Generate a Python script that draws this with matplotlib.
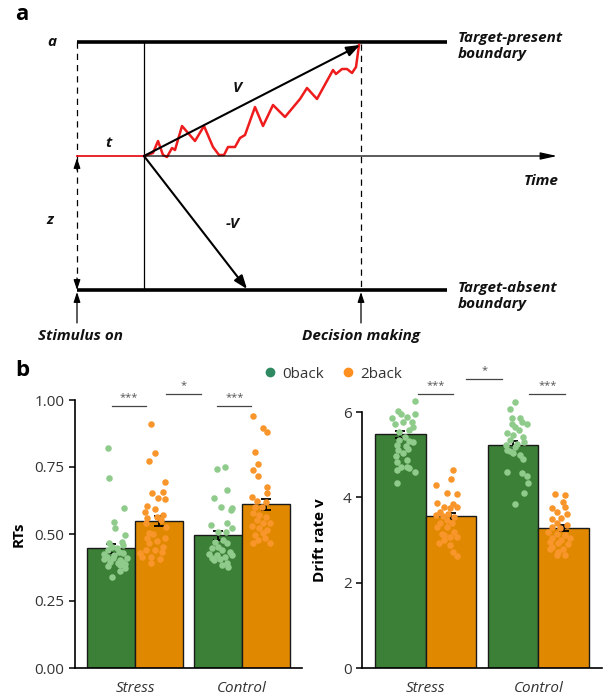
import numpy as np
import matplotlib.pyplot as plt
from matplotlib.lines import Line2D

plt.rcParams['font.family'] = ['Open Sans', 'DejaVu Sans']

W, H = 603, 698

# ---------------- panel a: diffusion schematic (figure pixel units) ----------------
x_on, x_t, x_dec = 77, 144, 361       # stimulus on, end of non-decision time, decision
x_bound_end = 447
y_a, y_z, y_0 = 42, 156, 290          # upper boundary, start point, lower boundary
x_time_end = 557
v_tip = (360, 45)
mv_tip = (247, 289)

# noisy evidence accumulation path
path_x = [144, 153, 158, 163, 167, 172, 175, 182, 195, 204, 213, 219, 224, 228,
          235, 240, 245, 255, 263, 273, 285, 300, 307, 317, 333, 336, 342, 347,
          352, 356, 359]
path_y = [156, 153, 141, 155, 157, 148, 150, 126, 141, 126, 147, 155, 155, 147,
          147, 138, 135, 107, 126, 105, 117, 99, 88, 99, 70, 74, 69, 69, 73, 67, 45]

# ---------------- panel b data ----------------
conds = ['Stress', 'Control']

rt_mean_0 = [0.447, 0.495]
rt_mean_2 = [0.547, 0.611]
rt_se_0 = [0.017, 0.016]
rt_se_2 = [0.019, 0.020]

rt_s0 = [0.822, 0.709, 0.597, 0.544, 0.524, 0.496, 0.465, 0.471, 0.459, 0.453,
         0.440, 0.434, 0.428, 0.415, 0.409, 0.403, 0.397, 0.391, 0.388, 0.420,
         0.405, 0.384, 0.372, 0.363, 0.338, 0.447, 0.412, 0.380, 0.425, 0.395]
rt_s0_jit = [-0.03, -0.02, 0.12, 0.03, 0.04, 0.13, -0.02, 0.10, 0.11, 0.01,
             -0.03, 0.07, 0.11, -0.04, 0.02, 0.08, -0.01, 0.06, 0.13, 0.03,
             -0.07, 0.08, 0.13, 0.08, 0.01, 0.05, 0.15, -0.03, -0.07, 0.10]
rt_s2 = [0.910, 0.801, 0.774, 0.695, 0.654, 0.657, 0.633, 0.630, 0.604, 0.592,
         0.581, 0.570, 0.565, 0.559, 0.552, 0.542, 0.525, 0.503, 0.500, 0.484,
         0.484, 0.475, 0.465, 0.453, 0.440, 0.440, 0.434, 0.415, 0.413, 0.393,
         0.405, 0.430]
rt_s2_jit = [-0.08, -0.04, -0.10, 0.05, -0.07, 0.04, -0.01, 0.05, -0.11, -0.04,
             -0.13, 0.04, -0.02, -0.11, 0.02, -0.12, 0.06, -0.10, -0.06, -0.11,
             0.05, -0.02, -0.10, 0.04, -0.12, -0.04, 0.03, -0.08, -0.16, -0.08,
             0.01, -0.18]
rt_c0 = [0.744, 0.749, 0.664, 0.633, 0.600, 0.596, 0.590, 0.534, 0.540, 0.521,
         0.509, 0.509, 0.471, 0.478, 0.465, 0.453, 0.447, 0.440, 0.434, 0.422,
         0.415, 0.422, 0.409, 0.406, 0.391, 0.378, 0.402, 0.385, 0.425]
rt_c0_jit = [-0.01, 0.07, 0.09, -0.04, 0.03, 0.13, 0.12, -0.06, 0.09, 0.13,
             0.00, 0.08, -0.03, 0.05, 0.09, 0.00, -0.05, 0.04, 0.11, -0.01,
             0.07, 0.13, -0.05, 0.02, 0.09, 0.10, -0.04, 0.04, -0.08]
rt_c2 = [0.941, 0.894, 0.882, 0.805, 0.761, 0.739, 0.718, 0.677, 0.654, 0.637,
         0.624, 0.621, 0.602, 0.600, 0.577, 0.571, 0.565, 0.552, 0.542, 0.540,
         0.530, 0.521, 0.515, 0.496, 0.503, 0.478, 0.465, 0.468, 0.484]
rt_c2_jit = [-0.12, -0.03, 0.01, -0.10, -0.07, -0.12, -0.07, 0.01, 0.01, -0.13,
             -0.08, 0.00, -0.10, -0.04, -0.12, -0.06, 0.00, -0.08, -0.03, 0.04,
             -0.13, -0.06, 0.01, -0.10, -0.03, -0.07, 0.04, -0.12, -0.01]

v_mean_0 = [5.48, 5.23]
v_mean_2 = [3.57, 3.28]
v_se_0 = [0.08, 0.09]
v_se_2 = [0.07, 0.06]

v_s0 = [6.26, 6.03, 5.96, 5.96, 5.85, 5.89, 5.77, 5.77, 5.73, 5.65,
        5.57, 5.53, 5.42, 5.34, 5.32, 5.30, 5.22, 5.20, 5.14, 5.12,
        5.03, 4.96, 4.87, 4.83, 4.71, 4.70, 4.68, 4.64, 4.60, 4.34]
v_s0_jit = [0.13, -0.02, 0.01, 0.13, -0.07, 0.06, 0.10, 0.02, -0.05, 0.11,
            0.08, -0.01, 0.04, -0.01, 0.08, 0.11, -0.03, 0.05, 0.07, -0.02,
            0.02, -0.04, 0.06, -0.03, 0.01, 0.06, 0.08, -0.03, 0.13, -0.03]
v_s2 = [4.64, 4.44, 4.29, 4.11, 4.07, 3.86, 3.84, 3.78, 3.74, 3.78,
        3.66, 3.62, 3.58, 3.57, 3.53, 3.47, 3.39, 3.39, 3.31, 3.30,
        3.19, 3.11, 3.08, 3.00, 2.92, 2.88, 2.72, 2.62, 3.08, 3.15]
v_s2_jit = [0.02, 0.00, -0.13, -0.04, 0.05, -0.12, 0.02, -0.06, -0.01, 0.05,
            -0.10, -0.03, -0.13, -0.07, 0.03, -0.04, -0.10, 0.01, -0.12, -0.04,
            0.03, -0.06, -0.01, -0.06, -0.11, -0.01, 0.02, 0.05, 0.05, -0.08]
v_c0 = [6.24, 6.07, 5.85, 5.85, 5.77, 5.71, 5.71, 5.65, 5.57, 5.50,
        5.46, 5.42, 5.34, 5.29, 5.22, 5.18, 5.11, 5.03, 4.99, 4.91,
        4.60, 4.56, 4.50, 4.33, 4.11, 3.84, 5.26, 5.08]
v_c0_jit = [0.02, -0.03, -0.01, 0.06, 0.08, -0.01, 0.12, 0.02, 0.05, -0.05,
            0.00, 0.09, -0.03, 0.10, -0.06, 0.02, -0.05, 0.00, 0.06, 0.09,
            -0.05, 0.08, 0.12, 0.13, 0.10, 0.02, 0.04, -0.03]
v_c2 = [4.07, 4.05, 3.89, 3.74, 3.78, 3.65, 3.62, 3.49, 3.51, 3.39,
        3.35, 3.31, 3.27, 3.19, 3.15, 3.11, 3.05, 3.04, 3.00, 2.96,
        2.92, 2.90, 2.84, 2.80, 2.79, 2.72, 2.65, 2.65]
v_c2_jit = [-0.08, 0.01, -0.01, -0.10, 0.01, -0.06, 0.03, -0.10, -0.02, -0.06,
            0.03, -0.10, -0.03, -0.14, -0.06, 0.01, -0.10, 0.06, -0.02, -0.12,
            -0.05, 0.04, -0.10, -0.01, -0.12, -0.05, -0.06, 0.01]

# significance brackets: (x start, x end, y line, label)
rt_sig = [(-0.22, 0.10, 0.978, '***'), (0.29, 0.62, 1.022, '*'), (0.77, 1.09, 0.978, '***')]
v_sig = [(-0.07, 0.24, 6.42, '***'), (0.36, 0.68, 6.77, '*'), (0.92, 1.24, 6.42, '***')]

bar_c0, bar_c2 = '#3c7f37', '#e08900'
pt_c0, pt_c2 = '#8fcb8b', '#f9962b'
leg_c0, leg_c2 = '#2f8a62', '#ff8f1f'
txt_c = '#333333'

fig = plt.figure(figsize=(W / 100, H / 100), dpi=100)

# ---- panel a ----
ax = fig.add_axes([0, 0, 1, 1])
ax.set_xlim(0, W)
ax.set_ylim(H, 0)
ax.axis('off')

ax.plot([x_on, x_bound_end], [y_a, y_a], 'k', lw=2.6, solid_capstyle='butt')
ax.plot([x_on, x_bound_end], [y_0, y_0], 'k', lw=2.6, solid_capstyle='butt')
ax.plot([x_t, x_t], [y_a, y_0], 'k', lw=0.9)
ax.plot([x_on, x_on], [y_a, y_0 - 4], 'k', lw=0.9, dashes=(5, 4))
ax.plot([x_dec, x_dec], [y_a + 2, y_0], 'k', lw=0.9, dashes=(5, 4))

head = dict(color='k', lw=0.9, shrinkA=0, shrinkB=0)
# z double arrow heads
ax.annotate('', xy=(x_on, y_0), xytext=(x_on, y_0 - 12),
            arrowprops=dict(arrowstyle='-|>,head_length=0.6,head_width=0.2', **head))
ax.annotate('', xy=(x_on, y_z + 2), xytext=(x_on, y_z + 14),
            arrowprops=dict(arrowstyle='-|>,head_length=0.6,head_width=0.2', **head))
# stimulus / decision arrows
for xx in (x_on, x_dec):
    ax.annotate('', xy=(xx, y_0 + 2), xytext=(xx, y_0 + 33),
                arrowprops=dict(arrowstyle='-|>,head_length=0.6,head_width=0.2', **head))
# time axis
ax.annotate('', xy=(x_time_end, y_z), xytext=(x_t, y_z),
            arrowprops=dict(arrowstyle='-|>,head_length=1.0,head_width=0.22', **head))
# drift arrows
ax.annotate('', xy=v_tip, xytext=(x_t, y_z),
            arrowprops=dict(arrowstyle='-|>,head_length=0.8,head_width=0.3',
                            color='k', lw=1.5, shrinkA=0, shrinkB=0))
ax.annotate('', xy=mv_tip, xytext=(x_t, y_z),
            arrowprops=dict(arrowstyle='-|>,head_length=0.8,head_width=0.3',
                            color='k', lw=1.5, shrinkA=0, shrinkB=0))
# non-decision time and evidence path
ax.plot([x_on, x_t], [y_z, y_z], color='#e8141b', lw=1.3)
ax.plot(path_x, path_y, color='#ee1c1c', lw=1.8, solid_joinstyle='round')

lab = dict(fontsize=11, fontweight='bold', fontstyle='italic', color='#111111')
ax.text(52, y_a, 'a', ha='center', va='center', **lab)
ax.text(50, 220, 'z', ha='center', va='center', **lab)
ax.text(108, 143, 't', ha='center', va='center', **lab)
ax.text(237, 88, 'V', ha='center', va='center', **lab)
ax.text(233, 224, '-V', ha='center', va='center', **lab)
ax.text(559, 181, 'Time', ha='right', va='center', **lab)
ax.text(458, 46, 'Target-present\nboundary', ha='left', va='center', linespacing=1.25, **lab)
ax.text(458, 296, 'Target-absent\nboundary', ha='left', va='center', linespacing=1.25, **lab)
ax.text(80, 336, 'Stimulus on', ha='center', va='center', **lab)
ax.text(x_dec, 336, 'Decision making', ha='center', va='center', **lab)

ax.text(22, 14, 'a', ha='center', va='center', fontsize=16, fontweight='bold')
ax.text(22, 370, 'b', ha='center', va='center', fontsize=16, fontweight='bold')

# ---- panel b ----
ax_rt = fig.add_axes([75 / W, 30 / H, 227 / W, 268 / H])
ax_v = fig.add_axes([362 / W, 30 / H, 240 / W, 256 / H])

w = 0.45
x = np.arange(len(conds))


def panel(ax, m0, m2, s0, s2, groups, sigs, ylim, yticks, ylabel, fmt, lab_x):
    ax.bar(x - w / 2, m0, w, color=bar_c0, edgecolor='#1a1a1a', lw=1.0, zorder=1)
    ax.bar(x + w / 2, m2, w, color=bar_c2, edgecolor='#1a1a1a', lw=1.0, zorder=1)
    ax.errorbar(x - w / 2, m0, yerr=s0, fmt='none', ecolor='k', elinewidth=1.3,
                capsize=3.5, capthick=1.3, zorder=2)
    ax.errorbar(x + w / 2, m2, yerr=s2, fmt='none', ecolor='k', elinewidth=1.3,
                capsize=3.5, capthick=1.3, zorder=2)
    for i, (vals, jit, col, off) in enumerate(groups):
        xs = x[i // 2] + off + np.array(jit)
        ax.scatter(xs, vals, s=22, color=col, lw=0, zorder=3, clip_on=False)
    for x1, x2, yy, t in sigs:
        ax.plot([x1, x2], [yy, yy], color='#444444', lw=0.9, clip_on=False)
        ax.text((x1 + x2) / 2, yy + (ylim[1] * 0.012), t, ha='center', va='bottom',
                fontsize=8, color='#555555')
    ax.set_xlim(-0.565, 1.565)
    ax.set_ylim(*ylim)
    ax.set_yticks(yticks)
    ax.set_yticklabels([fmt % t for t in yticks])
    ax.set_xticks(x)
    ax.set_xticklabels(conds, fontstyle='italic')
    ax.tick_params(axis='x', length=0, pad=9, labelsize=11, labelcolor=txt_c)
    ax.tick_params(axis='y', length=4, width=1.1, labelsize=11, labelcolor=txt_c)
    for sp in ('top', 'right'):
        ax.spines[sp].set_visible(False)
    for sp in ('left', 'bottom'):
        ax.spines[sp].set_linewidth(1.2)
    ax.set_ylabel(ylabel, fontsize=11, fontweight='bold')
    ax.yaxis.set_label_coords(lab_x, 0.5)


panel(ax_rt, rt_mean_0, rt_mean_2, rt_se_0, rt_se_2,
      [(rt_s0, rt_s0_jit, pt_c0, -w / 2), (rt_s2, rt_s2_jit, pt_c2, w / 2),
       (rt_c0, rt_c0_jit, pt_c0, -w / 2), (rt_c2, rt_c2_jit, pt_c2, w / 2)],
      rt_sig, (0, 1.0), [0, 0.25, 0.5, 0.75, 1.0], 'RTs', '%.2f', -0.216)
panel(ax_v, v_mean_0, v_mean_2, v_se_0, v_se_2,
      [(v_s0, v_s0_jit, pt_c0, -w / 2), (v_s2, v_s2_jit, pt_c2, w / 2),
       (v_c0, v_c0_jit, pt_c0, -w / 2), (v_c2, v_c2_jit, pt_c2, w / 2)],
      v_sig, (0, 6.0), [0, 2, 4, 6], 'Drift rate v', '%d', -0.146)

handles = [Line2D([], [], marker='o', ls='', color=leg_c0, markersize=6),
           Line2D([], [], marker='o', ls='', color=leg_c2, markersize=6)]
fig.legend(handles, ['0back', '2back'], loc='center', bbox_to_anchor=(332 / W, 1 - 374 / H),
           ncol=2, frameon=False, fontsize=11, handlelength=1.0, handletextpad=0.3,
           columnspacing=1.1, labelcolor=txt_c, borderpad=0)

fig.savefig('out.png', dpi=100)
